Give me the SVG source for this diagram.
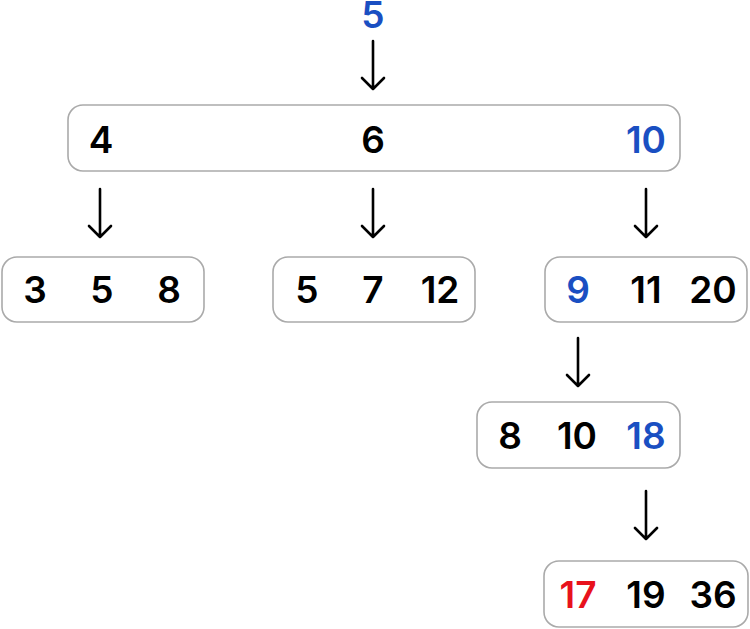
<svg xmlns="http://www.w3.org/2000/svg" width="750" height="629" viewBox="0 0 750 629">
<defs>
<style>
.box{fill:#fff;stroke:#aaa;stroke-width:1.6}
.t{font-family:Inter,"Liberation Sans",sans-serif;font-size:37px;font-weight:600;text-anchor:middle;fill:#000}
.b{fill:#1a4fc2}
.r{fill:#e8121c}
.arr{fill:none;stroke:#000;stroke-width:2.6;stroke-linecap:round;stroke-linejoin:round}
</style>
</defs>
<rect width="750" height="629" fill="#fff"/>
<g id="top"><text class="t b" x="373" y="28">5</text></g>
<g id="root">
<rect class="box" x="68" y="105" width="612" height="66" rx="15"/>
<text class="t" x="101" y="153">4</text>
<text class="t" x="373" y="153">6</text>
<text class="t b" x="646" y="153">10</text>
</g>
<g id="n1">
<rect class="box" x="2" y="257" width="202" height="65" rx="15"/>
<text class="t" x="35" y="303">3</text>
<text class="t" x="102" y="303">5</text>
<text class="t" x="169" y="303">8</text>
</g>
<g id="n2">
<rect class="box" x="273" y="257" width="202" height="65" rx="15"/>
<text class="t" x="307" y="303">5</text>
<text class="t" x="373" y="303">7</text>
<text class="t" x="440" y="303">12</text>
</g>
<g id="n3">
<rect class="box" x="545" y="257" width="202" height="65" rx="15"/>
<text class="t b" x="578" y="303">9</text>
<text class="t" x="646" y="303">11</text>
<text class="t" x="713" y="303">20</text>
</g>
<g id="n4">
<rect class="box" x="477" y="402" width="203" height="66" rx="15"/>
<text class="t" x="510" y="449">8</text>
<text class="t" x="577" y="449">10</text>
<text class="t b" x="646" y="449">18</text>
</g>
<g id="n5">
<rect class="box" x="544" y="561" width="204" height="66" rx="15"/>
<text class="t r" x="578" y="608">17</text>
<text class="t" x="646" y="608">19</text>
<text class="t" x="713" y="608">36</text>
</g>
<g id="connectors">
<path class="arr" d="M373 41V89M362 78L373 89L384 78"/>
<path class="arr" d="M100 189V237M89 226L100 237L111 226"/>
<path class="arr" d="M373 189V237M362 226L373 237L384 226"/>
<path class="arr" d="M646 189V237M635 226L646 237L657 226"/>
<path class="arr" d="M578 338V386M567 375L578 386L589 375"/>
<path class="arr" d="M646 491V539M635 528L646 539L657 528"/>
</g>
</svg>
